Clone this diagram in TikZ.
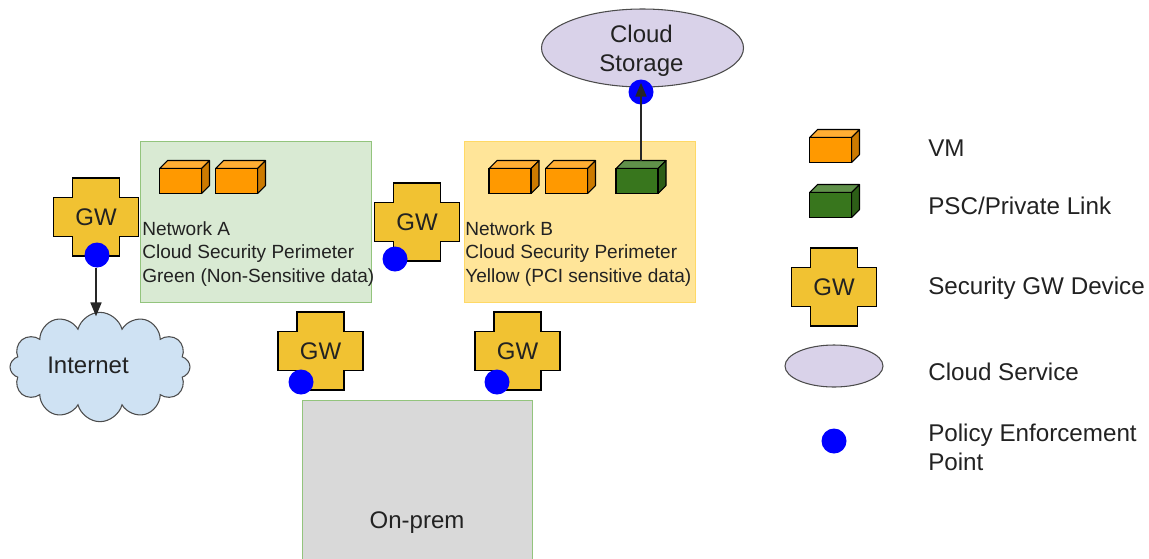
\documentclass[tikz,border=0pt]{standalone}
\usepackage{fontspec}
\setmainfont{Liberation Sans}
\usepackage{xcolor}
\usetikzlibrary{shapes.geometric, shapes.symbols, arrows.meta, positioning}

\definecolor{vmfront}{HTML}{FF9900}
\definecolor{vmtop}{HTML}{FFAD33}
\definecolor{vmside}{HTML}{CC7A00}
\definecolor{pscfront}{HTML}{38761D}
\definecolor{psctop}{HTML}{60914A}
\definecolor{pscside}{HTML}{2D5E17}
\definecolor{gwfill}{HTML}{F1C232}
\definecolor{svcfill}{HTML}{D9D2E9}
\definecolor{netgreen}{HTML}{D9EAD3}
\definecolor{netgreenline}{HTML}{93C47D}
\definecolor{netyellow}{HTML}{FFE599}
\definecolor{netyellowline}{HTML}{FFD966}
\definecolor{cloudfill}{HTML}{CFE2F3}
\definecolor{premfill}{HTML}{D9D9D9}
\definecolor{inkdark}{HTML}{222222}

\begin{document}
\begin{tikzpicture}[
    x=0.75pt, y=-0.75pt,
    every node/.style={text=inkdark},
    bigtext/.style={font=\fontsize{18}{21.75}\selectfont, align=center, inner sep=0pt},
    smalltext/.style={font=\fontsize{14.3}{17.6}\selectfont, align=left, anchor=west, inner sep=0pt},
    legendtext/.style={font=\fontsize{18.15}{21.75}\selectfont, align=left, anchor=west, inner sep=0pt},
    network/.style={rectangle, draw=#1line, fill=#1, line width=0.75pt, minimum width=173.25pt, minimum height=120.75pt, inner sep=0pt},
    pep/.style={circle, fill=blue, minimum size=18.75pt, inner sep=0pt},
    service/.style={ellipse, draw=black!70, fill=svcfill, line width=0.8pt, inner sep=0pt},
    arrow/.style={-{Stealth[length=10.5pt,width=8pt,inset=0pt]}, line width=1.9pt, black!85},
    pics/gwdevice/.style={code={
        \draw[fill=gwfill, line width=0.8pt] (-23.5,-39) -- (23.5,-39) -- (23.5,-19.5) -- (42.5,-19.5) -- (42.5,19.5)
            -- (23.5,19.5) -- (23.5,39) -- (-23.5,39) -- (-23.5,19.5) -- (-42.5,19.5) -- (-42.5,-19.5) -- (-23.5,-19.5) -- cycle;
        \node[bigtext] (-label) at (0,0) {GW};
    }},
    pics/cubebox/.style n args={3}{code={
        \draw[fill=#2, line width=0.8pt, line join=round] (-21,-12.5) -- ++(8,-8) -- ++(42,0) -- ++(-8,8) -- cycle;
        \draw[fill=#3, line width=0.8pt, line join=round] (21,-12.5) -- ++(8,-8) -- ++(0,25) -- ++(-8,8) -- cycle;
        \node[rectangle, draw=black, fill=#1, line width=0.8pt, minimum width=31.5pt, minimum height=18.75pt, inner sep=0pt] (-front) at (0,0) {};
        \coordinate (-top) at (4,-20.5);
    }}
]
\useasboundingbox (0,0) rectangle (1149,558);

% Networks
\node[network=netgreen] (neta) at (255.5,221.5) {};
\node[network=netyellow] (netb) at (579.5,221.5) {};
\node[rectangle, draw=netgreenline, fill=premfill, line width=0.75pt, minimum width=172.5pt, minimum height=184.5pt, bigtext] (onprem) at (417,523) {On-prem};

\node[smalltext] (netatext) at (142,254) {Network A\\Cloud Security Perimeter\\Green (Non-Sensitive data)};
\node[smalltext] (netbtext) at (465,254) {Network B\\Cloud Security Perimeter\\Yellow (PCI sensitive data)};

% VMs and private link
\pic (vma1) at (180.5,181) {cubebox={vmfront}{vmtop}{vmside}};
\pic (vma2) at (236.5,181) {cubebox={vmfront}{vmtop}{vmside}};
\pic (vmb1) at (510,181) {cubebox={vmfront}{vmtop}{vmside}};
\pic (vmb2) at (566.5,181) {cubebox={vmfront}{vmtop}{vmside}};
\pic (psc) at (637,181) {cubebox={pscfront}{psctop}{pscside}};

% Cloud storage and internet
\node[service, minimum width=151.5pt, minimum height=58.5pt] (storage) at (642.5,48) {};
\node[bigtext] (storagetext) at (641.5,51) {Cloud\\Storage};
\node[cloud, cloud puffs=12, aspect=1.65, draw=black!70, fill=cloudfill, line width=0.8pt, minimum width=135pt, minimum height=82pt, inner sep=0pt] (internet) at (100,367) {};
\node[bigtext] (internettext) at (88,365) {Internet};

% Gateways
\pic (gwnet) at (96,217) {gwdevice};
\pic (gwpeer) at (417,222) {gwdevice};
\pic (gwprema) at (320.5,351) {gwdevice};
\pic (gwpremb) at (517.5,351) {gwdevice};

% Enforcement points
\node[pep] (pepnet) at (97,255) {};
\node[pep] (peppeer) at (395,259) {};
\node[pep] (pepprema) at (301,382) {};
\node[pep] (peppremb) at (497,382) {};
\node[pep] (pepstorage) at (641,92) {};

% Arrows
\draw[arrow, shorten >=-3.5pt] (pepnet.south -| 96,0) -- (internet.north -| 96,0);
\draw[arrow, shorten >=2.5pt] (psc-top) -- (pepstorage.north);

% Legend
\pic (keyvm) at (830.5,150) {cubebox={vmfront}{vmtop}{vmside}};
\pic (keypsc) at (830.5,205) {cubebox={pscfront}{psctop}{pscside}};
\pic (keygw) at (834,287) {gwdevice};
\node[service, minimum width=73.5pt, minimum height=31.5pt] (keysvc) at (834,366) {};
\node[pep] (keypep) at (834,441) {};

\node[legendtext] (keyvmtext) at (928,148) {VM};
\node[legendtext] (keypsctext) at (928,206) {PSC/Private Link};
\node[legendtext] (keygwtext) at (928,288.5) {Security GW Device};
\node[legendtext] (keysvctext) at (928,372) {Cloud Service};
\node[legendtext] (keypeptext) at (928,447) {Policy Enforcement\\Point};

\end{tikzpicture}
\end{document}
